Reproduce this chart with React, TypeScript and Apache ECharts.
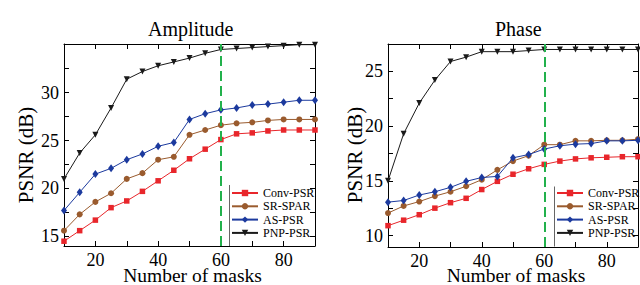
import React, { useEffect, useRef } from "react";
import * as echarts from "echarts";

const masks = [10, 15, 20, 25, 30, 35, 40, 45, 50, 55, 60, 65, 70, 75, 80, 85, 90];
const seriesNames = ["Conv-PSR", "SR-SPAR", "AS-PSR", "PNP-PSR"];

const ampConv = [14.5, 15.6, 16.7, 18.0, 18.7, 19.7, 20.8, 21.9, 23.1, 24.1, 25.1, 25.7, 25.8, 26.0, 26.1, 26.1, 26.1];
const ampSR = [15.6, 17.3, 18.6, 19.5, 21.0, 21.6, 23.0, 23.3, 25.6, 26.1, 26.6, 26.8, 26.9, 27.1, 27.2, 27.2, 27.2];
const ampAS = [17.7, 19.6, 21.5, 22.1, 23.0, 23.6, 24.4, 24.8, 27.2, 27.8, 28.2, 28.4, 28.7, 28.8, 29.0, 29.2, 29.2];
const ampPNP = [21.0, 23.7, 25.6, 28.4, 31.4, 32.2, 32.8, 33.2, 33.6, 34.1, 34.5, 34.6, 34.7, 34.8, 34.9, 35.0, 35.0];

const phaseConv = [10.9, 11.4, 11.9, 12.5, 13.0, 13.4, 14.2, 14.95, 15.6, 16.1, 16.5, 16.8, 17.0, 17.1, 17.15, 17.2, 17.2];
const phaseSR = [12.05, 12.7, 13.1, 13.6, 14.0, 14.5, 15.1, 16.0, 16.8, 17.3, 18.3, 18.3, 18.65, 18.65, 18.7, 18.7, 18.8];
const phaseAS = [13.05, 13.2, 13.7, 14.0, 14.4, 14.95, 15.3, 15.4, 17.1, 17.4, 17.9, 18.2, 18.35, 18.4, 18.65, 18.65, 18.7];
const phasePNP = [15.0, 19.3, 22.1, 24.2, 25.9, 26.3, 26.8, 26.8, 26.8, 26.9, 27.0, 27.0, 27.0, 27.0, 27.0, 27.0, 27.0];

const xTicks = [20, 30, 40, 50, 60, 70, 80];
const xLabels = [20, 40, 60, 80];
const ampYTicks = [15, 17.5, 20, 22.5, 25, 27.5, 30, 32.5];
const ampYLabels = [15, 20, 25, 30];
const phaseYTicks = [10, 12.5, 15, 17.5, 20, 22.5, 25];
const phaseYLabels = [10, 15, 20, 25];
const markerX = 60;
const xName = "Number of masks";
const yName = "PSNR (dB)";
const titles = ["Amplitude", "Phase"];

const FONT = "'Liberation Serif', 'Times New Roman', serif";
const colors = ["#e8262b", "#9a5b2e", "#1c3a9e", "#1a1a1a"];
const symbols = ["rect", "circle", "diamond", "triangle"];
const symbolSizes = [5.5, 6, [6, 8], 6];

export default function App() {
  const ref = useRef<HTMLDivElement>(null);
  useEffect(() => {
    if (!ref.current) return;
    const chart = echarts.init(ref.current, undefined, { renderer: "svg" });

    const grids = [
      { left: 64, right: 325, top: 44, bottom: 39 },
      { left: 388, right: 2, top: 44, bottom: 38 },
    ];
    const yRanges = [
      { min: 14, max: 35.07, ticks: ampYTicks, labels: ampYLabels },
      { min: 8.95, max: 27.5, ticks: phaseYTicks, labels: phaseYLabels },
    ];

    const xAxis: any[] = [];
    const yAxis: any[] = [];
    [0, 1].forEach((g) => {
      xAxis.push({
        type: "value",
        gridIndex: g,
        min: 10,
        max: 90,
        position: "bottom",
        axisLine: { lineStyle: { color: "#000", width: 1 } },
        axisTick: { inside: true, length: 5, customValues: xTicks, lineStyle: { color: "#000" } },
        axisLabel: { customValues: xLabels, color: "#000", fontFamily: FONT, fontSize: 18, margin: 5 },
        splitLine: { show: false },
      });
      xAxis.push({
        type: "value",
        gridIndex: g,
        min: 10,
        max: 90,
        position: "top",
        axisLine: { lineStyle: { color: "#000", width: 1 } },
        axisTick: { inside: true, length: 5, customValues: xTicks, lineStyle: { color: "#000" } },
        axisLabel: { show: false },
        splitLine: { show: false },
      });
      const yr = yRanges[g];
      yAxis.push({
        type: "value",
        gridIndex: g,
        min: yr.min,
        max: yr.max,
        position: "left",
        axisLine: { show: true, lineStyle: { color: "#000", width: 1 } },
        axisTick: { show: true, inside: true, length: 5, customValues: yr.ticks, lineStyle: { color: "#000" } },
        axisLabel: { customValues: yr.labels, color: "#000", fontFamily: FONT, fontSize: 18, margin: 5 },
        splitLine: { show: false },
      });
      yAxis.push({
        type: "value",
        gridIndex: g,
        min: yr.min,
        max: yr.max,
        position: "right",
        axisLine: { show: true, lineStyle: { color: "#000", width: 1 } },
        axisTick: { show: true, inside: true, length: 5, customValues: yr.ticks, lineStyle: { color: "#000" } },
        axisLabel: { show: false },
        splitLine: { show: false },
      });
    });

    const groups = [
      [ampConv, ampSR, ampAS, ampPNP],
      [phaseConv, phaseSR, phaseAS, phasePNP],
    ];
    const series: any[] = [];
    groups.forEach((grp, g) => {
      grp.forEach((vals, i) => {
        series.push({
          type: "line",
          name: seriesNames[i],
          xAxisIndex: g * 2,
          yAxisIndex: g * 2,
          data: masks.map((m, k) => [m, vals[k]]),
          symbol: symbols[i],
          symbolSize: symbolSizes[i],
          symbolRotate: i === 3 ? 180 : 0,
          color: colors[i],
          lineStyle: { color: colors[i], width: 1 },
          itemStyle: { color: colors[i] },
          clip: false,
          z: 3 + i,
          markLine:
            i === 0
              ? {
                  silent: true,
                  symbol: "none",
                  label: { show: false },
                  lineStyle: { color: "#22b14c", type: [10, 5], width: 2 },
                  data: [{ xAxis: markerX }],
                  z: 10,
                }
              : undefined,
        });
      });
    });

    const legendBase = {
      orient: "vertical",
      top: 187,
      padding: 0,
      itemWidth: 26,
      itemHeight: 8,
      itemGap: 1.3,
      data: seriesNames,
      textStyle: { color: "#000", fontFamily: FONT, fontSize: 12, lineHeight: 12 },
    };

    const txt = (text: string, x: number, y: number, size: number, rotation = 0) => ({
      type: "text",
      x,
      y,
      rotation,
      style: { text, fontFamily: FONT, fontSize: size, fill: "#000", textAlign: "center", textVerticalAlign: "middle" },
    });

    chart.setOption({
      animation: false,
      backgroundColor: "#fff",
      textStyle: { fontFamily: FONT, color: "#000" },
      grid: grids,
      xAxis,
      yAxis,
      series,
      legend: [
        { ...legendBase, left: 231 },
        { ...legendBase, left: 556 },
      ],
      graphic: [
        txt(titles[0], 190.7, 29, 20),
        txt(titles[1], 518.3, 29, 20),
        txt(xName, 192.5, 275.3, 19.5),
        txt(xName, 516, 275.3, 19.5),
        txt(yName, 26, 155, 21, Math.PI / 2),
        txt(yName, 355, 155, 21, Math.PI / 2),
        { type: "line", shape: { x1: 229.5, y1: 185, x2: 229.5, y2: 246 }, style: { stroke: "#666", lineWidth: 1 } },
        { type: "line", shape: { x1: 554.5, y1: 186.5, x2: 554.5, y2: 246.5 }, style: { stroke: "#666", lineWidth: 1 } },
      ],
    });
    return () => chart.dispose();
  }, []);
  return (
    <div
      ref={ref}
      style={{ position: "fixed", left: 0, top: 0, width: 640, height: 285, background: "#fff" }}
    />
  );
}
